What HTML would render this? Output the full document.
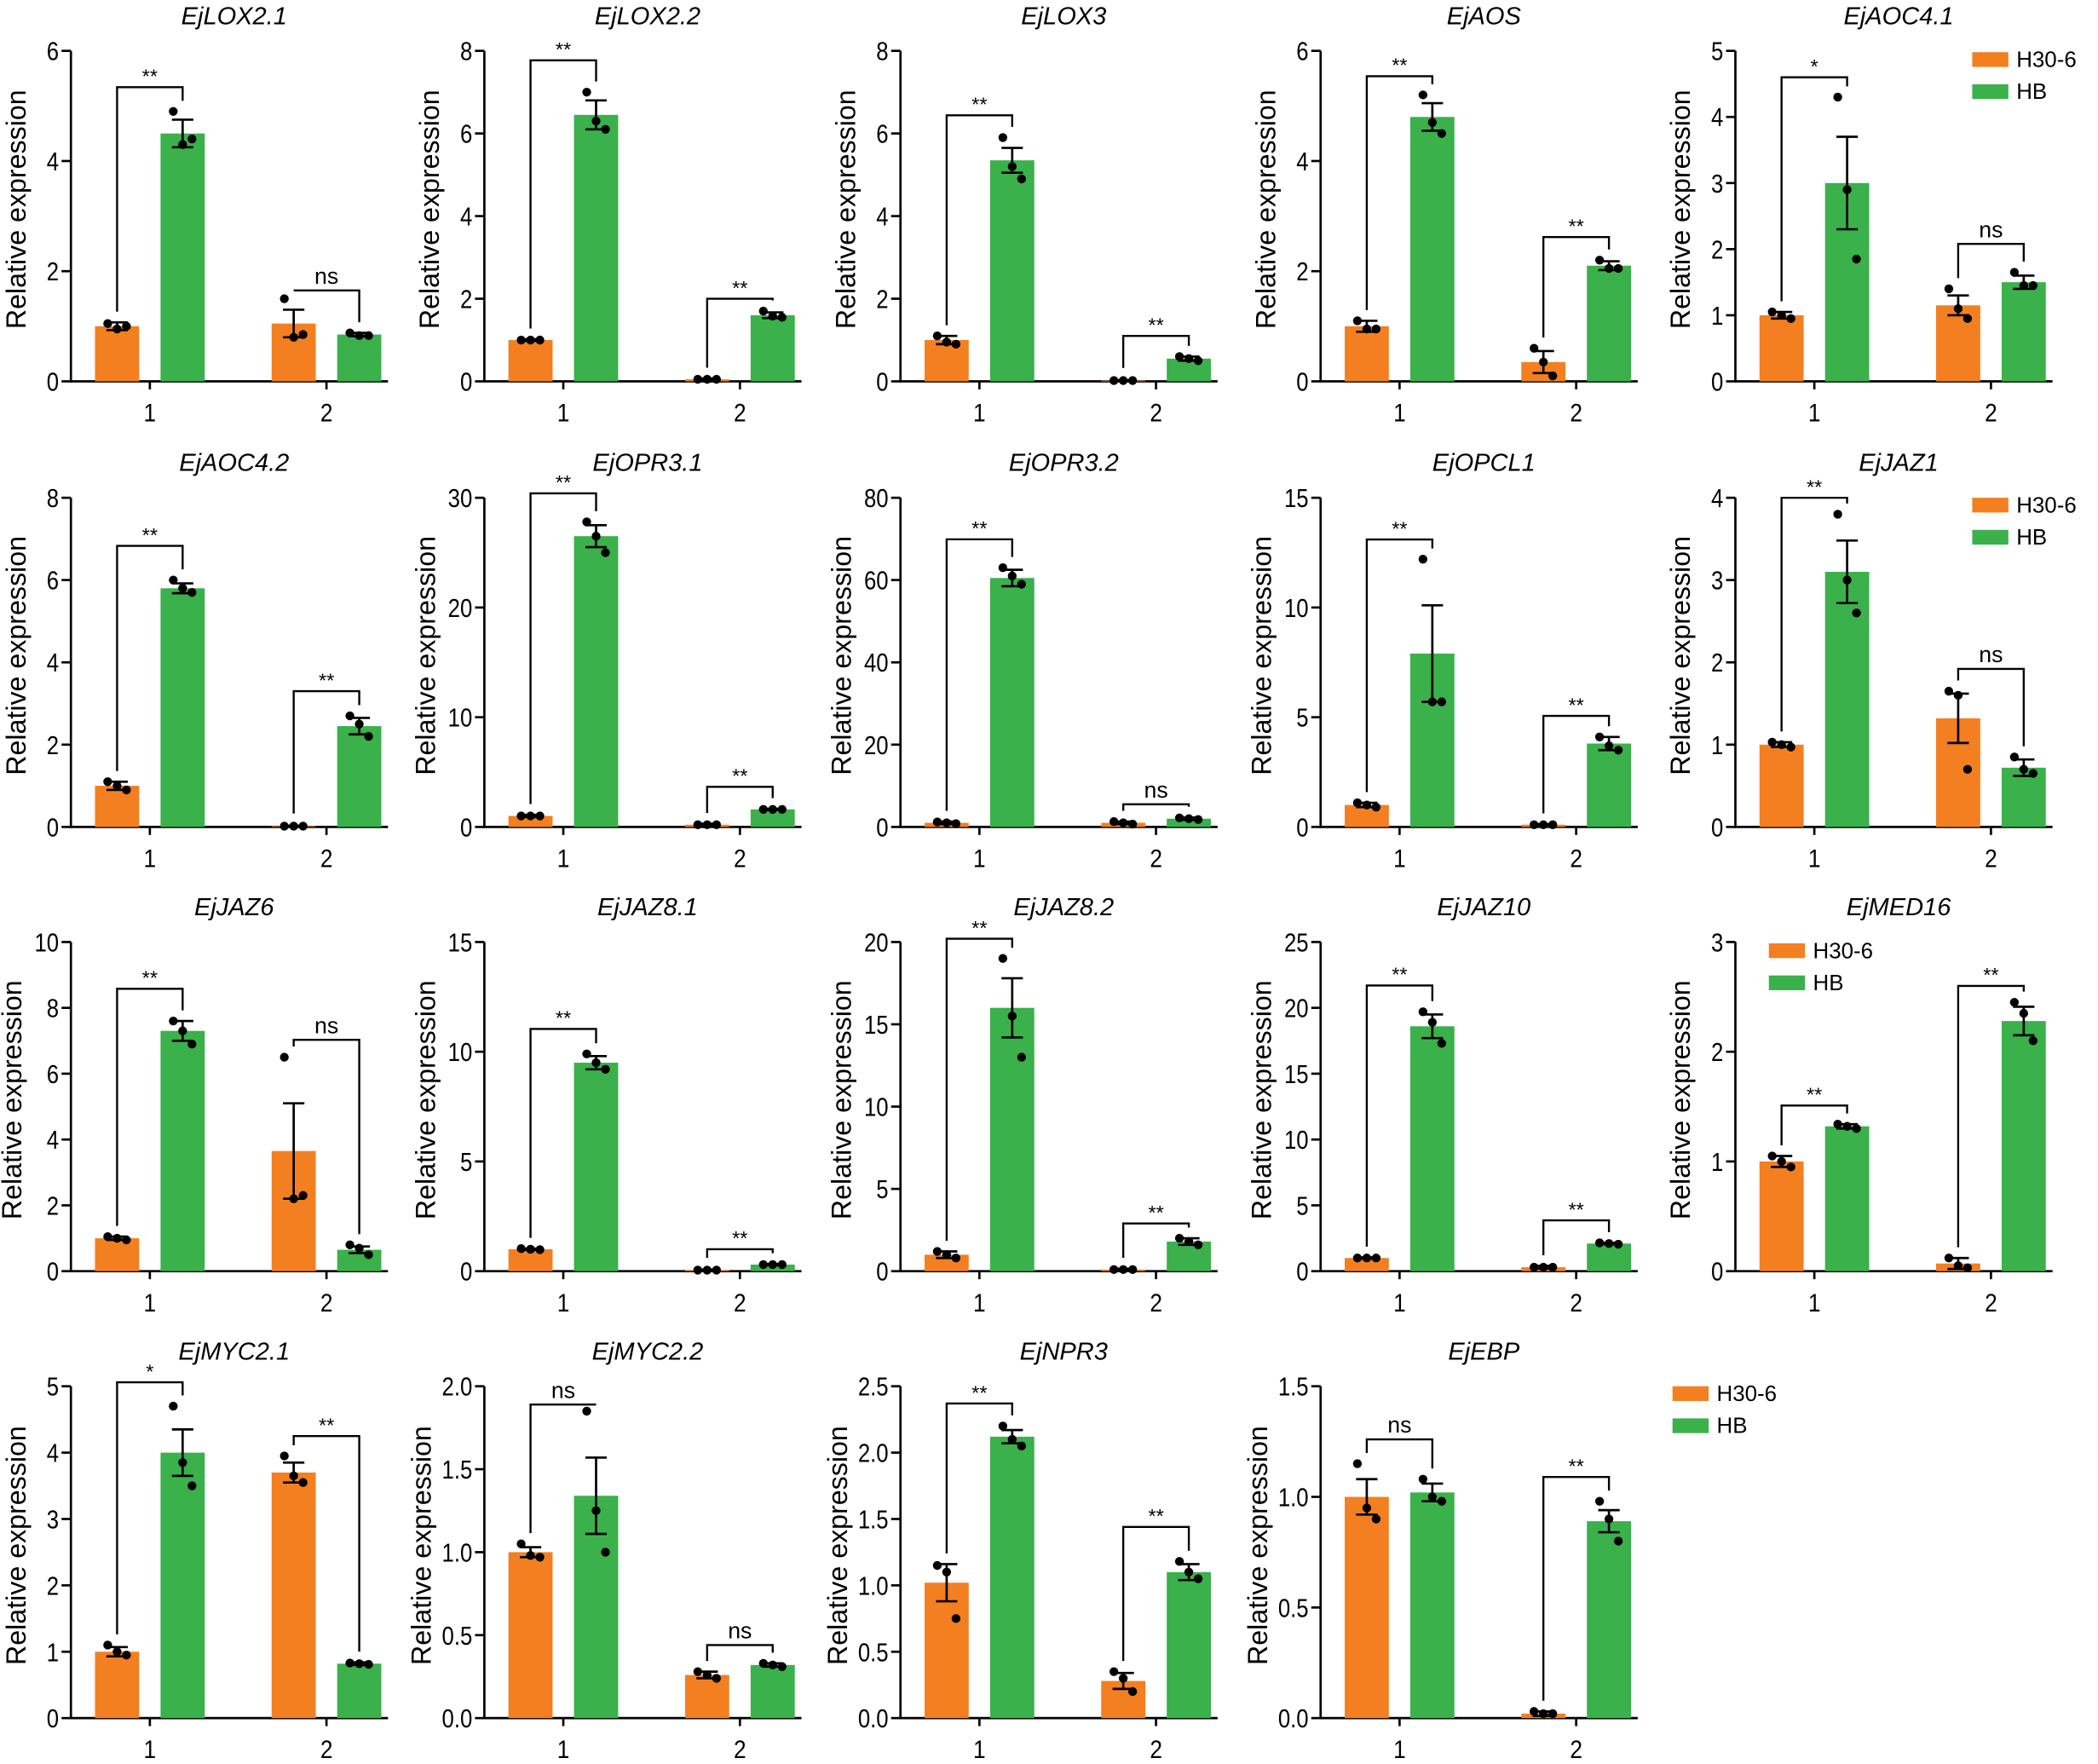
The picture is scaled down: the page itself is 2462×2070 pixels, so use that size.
<!DOCTYPE html>
<html><head><meta charset="utf-8"><style>
html,body{margin:0;padding:0;background:#fff}
svg{display:block}
text{font-family:"Liberation Sans",Arial,sans-serif;fill:#000}
</style></head><body>
<svg id="chart" width="2462" height="2070" viewBox="0 0 1568 1318.3" preserveAspectRatio="none" xmlns="http://www.w3.org/2000/svg"></svg>
<script>
const genes=["EjLOX2.1","EjLOX2.2","EjLOX3","EjAOS","EjAOC4.1","EjAOC4.2","EjOPR3.1","EjOPR3.2","EjOPCL1","EjJAZ1","EjJAZ6","EjJAZ8.1","EjJAZ8.2","EjJAZ10","EjMED16","EjMYC2.1","EjMYC2.2","EjNPR3","EjEBP"];
const yMax=[6,8,8,6,5,8,30,80,15,4,10,15,20,25,3,5,2,2.5,1.5];
const yStep=[2,2,2,2,1,2,10,20,5,1,2,5,5,5,1,1,0.5,0.5,0.5];
const tickDecimals=[0,0,0,0,0,0,0,0,0,0,0,0,0,0,0,0,1,1,1];
// means: [H30-6 grp1, HB grp1, H30-6 grp2, HB grp2]
const means=[[1.0,4.5,1.05,0.85],[1.0,6.45,0.05,1.6],[1.0,5.35,0.02,0.55],[1.0,4.8,0.35,2.1],[1.0,3.0,1.15,1.5],
[1.0,5.8,0.02,2.45],[1.0,26.5,0.2,1.6],[1.0,60.5,1.0,2.0],[1.0,7.9,0.1,3.8],[1.0,3.1,1.32,0.72],
[1.0,7.3,3.65,0.65],[1.0,9.5,0.05,0.3],[1.0,16,0.1,1.8],[1.0,18.6,0.3,2.1],[1.0,1.32,0.07,2.28],
[1.0,4.0,3.7,0.82],[1.0,1.34,0.26,0.32],[1.02,2.12,0.28,1.1],[1.0,1.02,0.02,0.89]];
const errs=[[0.07,0.25,0.25,0.03],[0.02,0.35,0.02,0.07],[0.1,0.3,0.01,0.05],[0.1,0.25,0.2,0.08],[0.05,0.7,0.15,0.1],
[0.1,0.12,0.01,0.2],[0.1,1.0,0.1,0.05],[0.3,2.0,0.3,0.3],[0.1,2.2,0.03,0.3],[0.03,0.38,0.3,0.1],
[0.05,0.3,1.45,0.1],[0.03,0.3,0.02,0.03],[0.2,1.8,0.05,0.2],[0.05,0.9,0.1,0.05],[0.05,0.02,0.05,0.13],
[0.07,0.35,0.15,0.02],[0.03,0.23,0.02,0.01],[0.14,0.05,0.06,0.06],[0.08,0.04,0.01,0.05]];
const dots=[
[[1.05,0.95,1.0],[4.9,4.3,4.4],[1.5,0.8,0.85],[0.88,0.83,0.83]],
[[1.0,1.0,1.0],[7.0,6.3,6.1],[0.05,0.05,0.05],[1.7,1.58,1.55]],
[[1.1,0.95,0.9],[5.9,5.2,4.9],[0.02,0.02,0.02],[0.6,0.55,0.5]],
[[1.1,0.95,0.95],[5.2,4.7,4.5],[0.6,0.35,0.1],[2.2,2.05,2.05]],
[[1.05,1.0,0.95],[4.3,2.9,1.85],[1.4,1.1,0.95],[1.65,1.45,1.45]],
[[1.1,1.0,0.9],[6.0,5.8,5.7],[0.02,0.02,0.02],[2.7,2.5,2.2]],
[[1.0,1.0,1.0],[27.8,26.5,25],[0.2,0.2,0.2],[1.6,1.6,1.6]],
[[1.2,1.0,0.8],[63,61,59],[1.3,1.0,0.7],[2.2,2.0,1.8]],
[[1.1,1.0,0.9],[12.2,5.7,5.7],[0.1,0.1,0.1],[4.1,3.7,3.5]],
[[1.03,1.0,0.97],[3.8,3.0,2.6],[1.65,1.6,0.7],[0.85,0.7,0.65]],
[[1.05,1.0,0.95],[7.6,7.3,6.9],[6.5,2.2,2.3],[0.8,0.7,0.5]],
[[1.03,1.0,0.98],[9.9,9.5,9.2],[0.05,0.05,0.05],[0.3,0.3,0.3]],
[[1.2,1.0,0.8],[19,15.5,13],[0.1,0.1,0.1],[2.0,1.8,1.6]],
[[1.0,1.0,1.0],[19.7,18.9,17.3],[0.3,0.3,0.3],[2.15,2.1,2.05]],
[[1.05,1.0,0.95],[1.34,1.32,1.3],[0.12,0.05,0.03],[2.45,2.35,2.1]],
[[1.1,1.0,0.95],[4.7,3.85,3.5],[3.95,3.65,3.55],[0.83,0.82,0.81]],
[[1.05,0.98,0.97],[1.85,1.25,1.0],[0.28,0.26,0.24],[0.33,0.32,0.31]],
[[1.15,1.1,0.75],[2.2,2.1,2.05],[0.35,0.3,0.2],[1.18,1.1,1.05]],
[[1.15,0.95,0.9],[1.08,1.0,0.98],[0.03,0.02,0.02],[0.98,0.9,0.8]]];
const sigLabels=[["**","ns"],["**","**"],["**","**"],["**","**"],["*","ns"],
["**","**"],["**","**"],["**","ns"],["**","**"],["**","ns"],
["**","ns"],["**","**"],["**","**"],["**","**"],["**","**"],
["*","**"],["ns","ns"],["**","**"],["ns","**"]];
const sigHeights=[[5.34,1.65],[7.77,2.0],[6.44,1.1],[5.54,2.62],[4.6,2.08],
[6.83,3.3],[30.4,3.66],[69.9,5.5],[13.1,5.06],[4.0,1.92],
[8.58,7.03],[11.04,1.0],[20.2,2.9],[21.7,3.86],[1.51,2.6],
[5.06,4.25],[1.89,0.44],[2.37,1.44],[1.26,1.09]];
const groupLabels=["1","2"];
const seriesNames=["H30-6","HB"];

const ORANGE="#F47F20",GREEN="#3AB14A";
const NS="http://www.w3.org/2000/svg";
const svg=document.getElementById("chart");
const colX=[53,362,673,987,1297];
const rowTop=[38,372,704,1036],rowBot=[285,618,950,1284];
function mk(tag,attrs,parent){const e=document.createElementNS(NS,tag);for(const k in attrs)e.setAttribute(k,attrs[k]);(parent||svg).appendChild(e);return e;}

genes.forEach((g,i)=>{
  const r=Math.floor(i/5),c=i%5;
  const ax=colX[c],top=rowTop[r],bot=rowBot[r];
  const y=v=>bot-(v/yMax[i])*(bot-top);
  const grp=mk("g",{});
  
  
  const t=mk("text",{x:ax+122,y:top-20,"text-anchor":"middle","font-size":18.5,"font-style":"italic"},grp);
  t.textContent=g;
  
  
  const maxChars=yMax[i].toFixed(tickDecimals[i]).length;
  const yl=mk("text",{x:0,y:0,"text-anchor":"middle","font-size":20.5,transform:`translate(${ax-34-(maxChars-1)*3},${(top+bot)/2-5}) rotate(-90)`},grp);
  yl.textContent="Relative expression";
  
  
  const yAxis=mk("line",{x1:ax,y1:top,x2:ax,y2:bot+0.8,stroke:"#000","stroke-width":1.7},grp);
  
  
  const xAxis=mk("line",{x1:ax-0.8,y1:bot,x2:ax+237,y2:bot,stroke:"#000","stroke-width":1.7},grp);
  
  
  const n=Math.round(yMax[i]/yStep[i]);
  for(let k=0;k<=n;k++){
    const v=k*yStep[i],yy=y(v);
    mk("line",{x1:ax-7,y1:yy,x2:ax,y2:yy,stroke:"#000","stroke-width":1.7},grp);
    const tl=mk("text",{x:0,y:0,"text-anchor":"end","font-size":19.5,transform:`translate(${ax-9},${yy+7}) scale(0.84,1)`},grp);
    tl.textContent=v.toFixed(tickDecimals[i]);
    
    
  }
  const gx=[ax+59,ax+191];
  gx.forEach((cx,gi)=>{
    mk("line",{x1:cx,y1:bot,x2:cx,y2:bot+6,stroke:"#000","stroke-width":1.7},grp);
    const xl=mk("text",{x:0,y:0,"text-anchor":"middle","font-size":19,transform:`translate(${cx},${bot+30}) scale(0.88,1)`},grp);
    xl.textContent=groupLabels[gi];
    
    
  });
  const centers=[gx[0]-24.5,gx[0]+24.5,gx[1]-24.5,gx[1]+24.5];
  for(let b=0;b<4;b++){
    const cx=centers[b],m=means[i][b],e=errs[i][b];
    const bar=mk("rect",{x:cx-16.5,y:y(m),width:33,height:bot-y(m),fill:b%2?GREEN:ORANGE},grp);
    
    
    mk("path",{d:`M${cx},${y(m-e)}V${y(m+e)}M${cx-8},${y(m+e)}H${cx+8}M${cx-8},${y(m-e)}H${cx+8}`,stroke:"#000","stroke-width":1.7,fill:"none"},grp);
    const ds=dots[i][b];
    [-7,0,7].forEach((dx,di)=>{
      const d=mk("circle",{cx:cx+dx,cy:y(ds[di]),r:3.3,fill:"#000"},grp);
      
      
    });
  }
  for(let s=0;s<2;s++){
    const c1=centers[s*2],c2=centers[s*2+1];
    const topOf=b=>Math.min(y(means[i][b]+errs[i][b]),...dots[i][b].map(y));
    const by=y(sigHeights[i][s]);
    const l1=Math.min(topOf(s*2)-8,bot-10),l2=Math.min(topOf(s*2+1)-8,bot-10);
    mk("path",{d:`M${c1},${Math.max(l1,by)}V${by}H${c2}V${Math.max(l2,by)}`,stroke:"#000","stroke-width":1.5,fill:"none"},grp);
    const st=mk("text",{x:(c1+c2)/2,y:by-(sigLabels[i][s]==="ns"?5:3),"text-anchor":"middle","font-size":sigLabels[i][s]==="ns"?17:15},grp);
    st.textContent=sigLabels[i][s];
    
    
  }
});
const legendPos=[[1474,44],[1474,377],[1322,710],[1250,1041]];
legendPos.forEach(([lx,ly],li)=>{
  const lg=mk("g",{});
  
  
  seriesNames.forEach((nm,si)=>{
    const yy=ly+si*24;
    mk("rect",{x:lx,y:yy-5,width:27,height:11,fill:si?GREEN:ORANGE},lg);
    const lt=mk("text",{x:lx+33,y:yy+6,"font-size":16.5},lg);
    lt.textContent=nm;
    
    
  });
});
</script>
</body></html>
